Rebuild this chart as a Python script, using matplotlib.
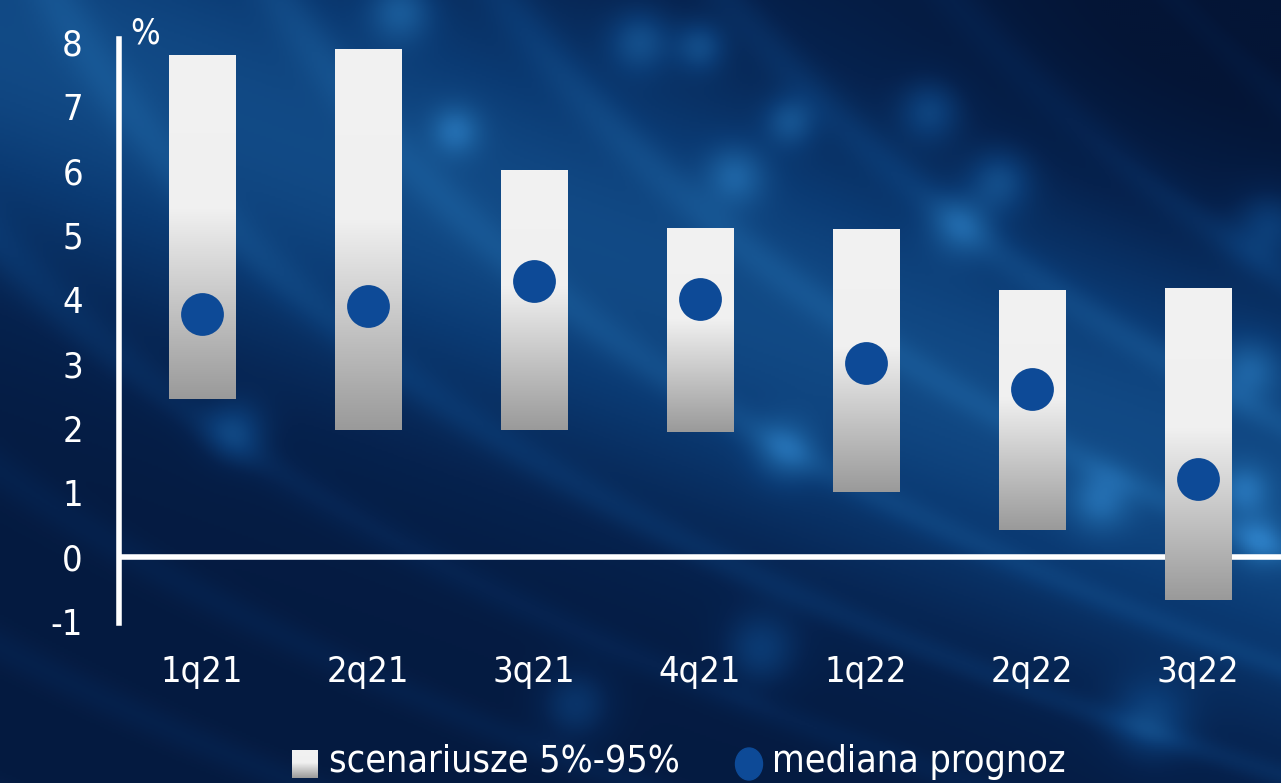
import numpy as np
import matplotlib
matplotlib.use("Agg")
import matplotlib.pyplot as plt
from matplotlib import font_manager
from matplotlib.colors import LinearSegmentedColormap
from matplotlib.patches import Ellipse

# --- data ---
quarters = ["1q21", "2q21", "3q21", "4q21", "1q22", "2q22", "3q22"]
low_5 = [2.46, 1.97, 1.97, 1.94, 1.01, 0.42, -0.68]
high_95 = [7.80, 7.89, 6.01, 5.11, 5.09, 4.15, 4.16]
median = [3.77, 3.90, 4.29, 4.01, 3.01, 2.61, 1.21]

yticks = [-1, 0, 1, 2, 3, 4, 5, 6, 7, 8]

# condensed font if available
names = {f.name for f in font_manager.fontManager.ttflist}
if "Liberation Sans Narrow" in names:
    FONT = dict(family=["Liberation Sans Narrow", "DejaVu Sans"])
else:
    FONT = dict(family=["DejaVu Sans"], stretch="condensed")

W, H = 1281, 783
fig = plt.figure(figsize=(W / 100, H / 100), dpi=100)

# --- background: navy with a diagonal band of light, streaks and glows (decoration) ---
bg_ax = fig.add_axes([0, 0, 1, 1], zorder=-10)
py, px = np.mgrid[0:H:2, 0:W:2].astype(float)
d = (py - (60 + 0.36 * px)) / np.sqrt(1 + 0.36 ** 2)
light = 0.22 + 0.42 * np.exp(-(d / 220) ** 2) + 0.10 * np.exp(-((d + 160) / 200) ** 2)
corner = np.exp(-(((px - 1281) / 300) ** 2 + (py / 220) ** 2))
light -= 0.18 * corner
ang = 0.9 - 0.35 * (py / H)
u = px * np.sin(ang) - py * np.cos(ang)
light += 0.10 * (0.5 + 0.5 * np.sin(u / 28 + 2 * np.sin(py / 300))) ** 6
glows = [(700, 45, 18), (640, 40, 22), (930, 110, 22), (735, 175, 22), (790, 120, 18),
         (1000, 180, 22), (960, 225, 22), (1270, 225, 26), (235, 430, 22), (785, 450, 22),
         (1100, 500, 22), (1250, 370, 22), (1245, 490, 18), (575, 705, 26), (760, 650, 26),
         (1150, 720, 28), (1260, 540, 18), (455, 130, 18), (400, 10, 22)]
for gx, gy, gr in glows:
    light += 0.28 * np.exp(-((px - gx) ** 2 + (py - gy) ** 2) / (2 * gr ** 2))
bg_cmap = LinearSegmentedColormap.from_list(
    "bg", ["#041536", "#06224e", "#0b3b74", "#195a98", "#2b7cc2"])
bg_ax.imshow(light, cmap=bg_cmap, vmin=0.12, vmax=1.05, aspect="auto", extent=[0, 1, 0, 1],
             origin="upper")
bg_ax.set_axis_off()

# --- main axes ---
ax = fig.add_axes([119 / W, (H - 623) / H, (W - 119) / W, (623 - 39) / H])
ax.patch.set_alpha(0)

bar_cmap = LinearSegmentedColormap.from_list(
    "bar", [(0, "#9a9a9a"), (0.55, "#f0f0f0"), (1, "#f2f2f2")])
grad = np.linspace(0, 1, 256).reshape(-1, 1)
x = np.arange(len(quarters))
for xi, lo, hi in zip(x, low_5, high_95):
    ax.imshow(grad, cmap=bar_cmap, aspect="auto", origin="lower",
              extent=[xi - 0.2, xi + 0.2, lo, hi], zorder=3)
ax.set_xlim(-0.5, 6.5)
ax.set_ylim(-1.03, 8.05)

ax.axhline(0, color="white", lw=4, zorder=2)
ax.scatter(x, median, s=950, color="#0d4a97", zorder=4, linewidths=0)

for s in ["top", "right", "bottom"]:
    ax.spines[s].set_visible(False)
ax.spines["left"].set_color("white")
ax.spines["left"].set_linewidth(4)
ax.spines["left"].set_bounds(-1.03, 8.05)

ax.set_yticks(yticks)
ax.set_yticklabels([str(v) for v in yticks], fontsize=26, color="white", **FONT)
ax.set_xticks(x)
ax.set_xticklabels(quarters, fontsize=26, color="white", **FONT)
ax.tick_params(axis="y", length=0, pad=26)
ax.tick_params(axis="x", length=0, pad=23)

fig.text(130 / W, 1 - 33 / H, "%", color="white", fontsize=25, va="center", ha="left", **FONT)

# --- legend ---
sq = fig.add_axes([292 / W, 1 - 778 / H, 26 / W, 28 / H])
sq.imshow(grad, cmap=bar_cmap, aspect="auto", origin="lower", extent=[0, 1, 0, 1])
sq.set_axis_off()
fig.text(329 / W, 1 - 762 / H, "scenariusze 5%-95%", color="white", fontsize=27,
         va="center", ha="left", **FONT)
fig.add_artist(Ellipse((749 / W, 1 - 764 / H), 27 / W, 32 / H,
                       transform=fig.transFigure, color="#0d4a97"))
fig.text(772 / W, 1 - 762 / H, "mediana prognoz", color="white", fontsize=27,
         va="center", ha="left", **FONT)

fig.savefig("out.png", dpi=100)
